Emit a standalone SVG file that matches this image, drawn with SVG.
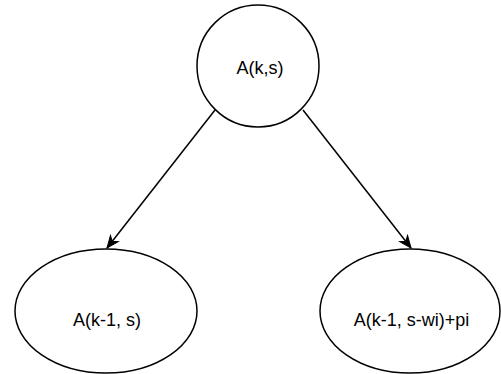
<svg xmlns="http://www.w3.org/2000/svg" width="501" height="374" viewBox="0 0 501 374">
<style>
.node{fill:#ffffff;stroke:#000000;stroke-width:1.5}
.lbl{font-family:"Liberation Sans",Arial,sans-serif;font-size:18px;fill:#000000;text-anchor:middle}
.edge{fill:none;stroke:#000000;stroke-width:1.5}
</style>
<defs>
<marker id="arr" markerUnits="userSpaceOnUse" markerWidth="14" markerHeight="12" refX="13" refY="6" orient="auto" viewBox="0 0 14 12">
<path d="M1,1 L13,6 L1,11 L4.5,6 Z" fill="#000000" stroke="#000000" stroke-width="1"/>
</marker>
</defs>
<rect width="501" height="374" fill="#ffffff"/>
<g id="connectors">
<line class="edge" x1="215" y1="110" x2="107" y2="248" marker-end="url(#arr)"/>
<line class="edge" x1="303" y1="110" x2="411" y2="248" marker-end="url(#arr)"/>
</g>
<g id="node-root">
<circle class="node" cx="258" cy="66" r="61"/>
<text class="lbl" x="260" y="74">A(k,s)</text>
</g>
<g id="node-left">
<ellipse class="node" cx="106" cy="311" rx="91" ry="62"/>
<text class="lbl" x="107" y="326">A(k-1, s)</text>
</g>
<g id="node-right">
<ellipse class="node" cx="410" cy="311" rx="90" ry="62"/>
<text class="lbl" x="411.5" y="326">A(k-1, s-wi)+pi</text>
</g>
</svg>
